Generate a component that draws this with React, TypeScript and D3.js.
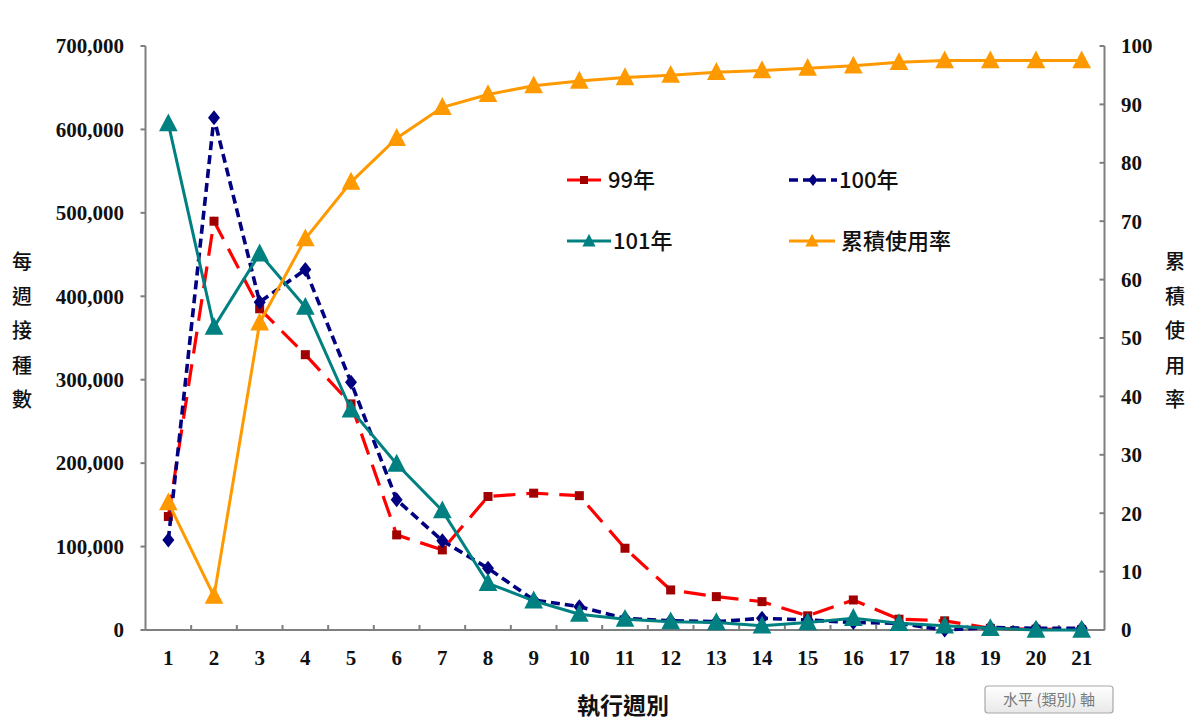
import React from "react";
import * as d3 from "d3";

const weeks = d3.range(1, 22).map(String);
const s99 = [136000, 490000, 385000, 330000, 271000, 114000, 96000, 160000, 164000, 161000, 98000, 48000, 40000, 34000, 17000, 36000, 13000, 11000, 2000, 1000, 500];
const s100 = [108000, 614000, 393000, 432000, 297000, 156000, 107000, 74000, 36000, 28000, 14000, 11000, 10000, 14000, 12000, 9000, 8000, 0, 3000, 2000, 2000];
const s101 = [607000, 363000, 451000, 387000, 264000, 199000, 143000, 56000, 35000, 19000, 13000, 10000, 9000, 5000, 9000, 14000, 8000, 5000, 2000, 0, 0];
const cumRate = [21.8, 5.8, 52.6, 67, 76.7, 84.2, 89.5, 91.7, 93.2, 94.0, 94.6, 95.0, 95.5, 95.8, 96.2, 96.6, 97.2, 97.5, 97.5, 97.5, 97.5];
const leftTicks = [0, 100000, 200000, 300000, 400000, 500000, 600000, 700000];
const rightTicks = [0, 10, 20, 30, 40, 50, 60, 70, 80, 90, 100];
const legendItems = ["99年", "100年", "101年", "累積使用率"];

const W = 1192, H = 725;
const L = 145.5, R = 1104.5, T = 46, B = 630;

export default function App() {
  const x = d3.scaleBand<string>().domain(weeks).range([L, R]).padding(0);
  const cx = (i: number) => (x(weeks[i]) as number) + x.bandwidth() / 2;
  const yL = d3.scaleLinear().domain([0, 700000]).range([B, T]);
  const yR = d3.scaleLinear().domain([0, 100]).range([B, T]);
  const lineL = d3.line<number>().x((_, i) => cx(i)).y((d) => yL(d));
  const lineR = d3.line<number>().x((_, i) => cx(i)).y((d) => yR(d));
  const fmt = d3.format(",");
  const numFont = "'Liberation Serif', 'Times New Roman', serif";
  const cjk = "'Noto Sans CJK TC', 'Noto Sans CJK SC', sans-serif";

  const tri = (px: number, py: number, s: number) =>
    `M${px},${py - s * 0.6}L${px + s * 0.55},${py + s * 0.45}L${px - s * 0.55},${py + s * 0.45}Z`;
  const dia = (px: number, py: number, s: number) =>
    `M${px},${py - s}L${px + s * 0.8},${py}L${px},${py + s}L${px - s * 0.8},${py}Z`;

  const axisColor = "#7f7f7f";
  const red = "#ff0000", redM = "#a00000", navy = "#000080", teal = "#008080", orange = "#ff9900";

  const leg = [
    { x: 567, y: 180, label: legendItems[0], tx: 608 },
    { x: 789, y: 180, label: legendItems[1], tx: 839 },
    { x: 567, y: 241, label: legendItems[2], tx: 613 },
    { x: 789, y: 241, label: legendItems[3], tx: 841 },
  ];

  return (
    <svg width={W} height={H} style={{ position: "absolute", left: 0, top: 0, background: "#fff" }}>
      <rect x={0} y={0} width={W} height={H} fill="#fff" />
      {/* axes */}
      <line x1={L} y1={T} x2={L} y2={B} stroke={axisColor} strokeWidth={2} />
      <line x1={R} y1={T} x2={R} y2={B} stroke={axisColor} strokeWidth={2} />
      <line x1={L} y1={B} x2={R} y2={B} stroke={axisColor} strokeWidth={2} />
      {leftTicks.map((t) => (
        <g key={"l" + t}>
          <line x1={L - 5} x2={L} y1={yL(t)} y2={yL(t)} stroke={axisColor} strokeWidth={2} />
          <text x={124} y={yL(t)} dy="0.35em" textAnchor="end" fontFamily={numFont} fontWeight="bold" fontSize={21} fill="#111">
            {fmt(t)}
          </text>
        </g>
      ))}
      {rightTicks.map((t) => (
        <g key={"r" + t}>
          <line x1={R - 5} x2={R} y1={yR(t)} y2={yR(t)} stroke={axisColor} strokeWidth={2} />
          <text x={1121} y={yR(t)} dy="0.35em" textAnchor="start" fontFamily={numFont} fontWeight="bold" fontSize={21} fill="#111">
            {t}
          </text>
        </g>
      ))}
      {weeks.map((w, i) => (
        <g key={"x" + w}>
          {i > 0 && (
            <line x1={x(w) as number} x2={x(w) as number} y1={B - 5} y2={B} stroke={axisColor} strokeWidth={2} />
          )}
          <text x={cx(i)} y={658} dy="0.35em" textAnchor="middle" fontFamily={numFont} fontWeight="bold" fontSize={21} fill="#111">
            {w}
          </text>
        </g>
      ))}

      {/* axis titles */}
      {"每週接種數".split("").map((c, i) => (
        <text key={"tl" + i} x={22} y={262 + i * 34.5} dy="0.35em" textAnchor="middle" fontFamily={cjk} fontWeight={500} fontSize={20} fill="#111">
          {c}
        </text>
      ))}
      {"累積使用率".split("").map((c, i) => (
        <text key={"tr" + i} x={1175} y={262 + i * 34.5} dy="0.35em" textAnchor="middle" fontFamily={cjk} fontWeight={500} fontSize={20} fill="#111">
          {c}
        </text>
      ))}
      <text x={623} y={706} dy="0.35em" textAnchor="middle" fontFamily={cjk} fontWeight="bold" fontSize={23} fill="#111">
        執行週別
      </text>

      {/* series 99 */}
      <path d={lineL(s99) || ""} fill="none" stroke={red} strokeWidth={3.2} strokeDasharray="22 11" />
      {s99.map((v, i) => (
        <rect key={"m99" + i} x={cx(i) - 4.5} y={yL(v) - 4.5} width={9} height={9} fill={redM} />
      ))}
      {/* series 100 */}
      <path d={lineL(s100) || ""} fill="none" stroke={navy} strokeWidth={3.6} strokeDasharray="9 5" />
      {s100.map((v, i) => (
        <path key={"m100" + i} d={dia(cx(i), yL(v), 7.5)} fill={navy} />
      ))}
      {/* series 101 */}
      <path d={lineL(s101) || ""} fill="none" stroke={teal} strokeWidth={3} />
      {s101.map((v, i) => (
        <path key={"m101" + i} d={tri(cx(i), yL(v), 17)} fill={teal} />
      ))}
      {/* cumulative */}
      <path d={lineR(cumRate) || ""} fill="none" stroke={orange} strokeWidth={3} />
      {cumRate.map((v, i) => (
        <path key={"mc" + i} d={tri(cx(i), yR(v), 17)} fill={orange} />
      ))}

      {/* legend */}
      <g>
        <line x1={leg[0].x} x2={leg[0].x + 34} y1={leg[0].y} y2={leg[0].y} stroke={red} strokeWidth={3.2} />
        <rect x={leg[0].x + 13} y={leg[0].y - 4} width={8} height={8} fill={redM} />
        <line x1={leg[1].x} x2={leg[1].x + 48} y1={leg[1].y} y2={leg[1].y} stroke={navy} strokeWidth={3.6} strokeDasharray="9 5" />
        <path d={dia(leg[1].x + 24, leg[1].y, 6)} fill={navy} />
        <line x1={leg[2].x} x2={leg[2].x + 44} y1={leg[2].y} y2={leg[2].y} stroke={teal} strokeWidth={3} />
        <path d={tri(leg[2].x + 22, leg[2].y, 12)} fill={teal} />
        <line x1={leg[3].x} x2={leg[3].x + 46} y1={leg[3].y} y2={leg[3].y} stroke={orange} strokeWidth={3} />
        <path d={tri(leg[3].x + 23, leg[3].y, 12)} fill={orange} />
        {leg.map((l, i) => (
          <text key={"lt" + i} x={l.tx} y={l.y} dy="0.35em" fontFamily={cjk} fontWeight={500} fontSize={22} fill="#111">
            {l.label}
          </text>
        ))}
      </g>

      {/* tooltip box */}
      <defs>
        <linearGradient id="tipg" x1="0" y1="0" x2="0" y2="1">
          <stop offset="0" stopColor="#ffffff" />
          <stop offset="1" stopColor="#e8e8e8" />
        </linearGradient>
      </defs>
      <rect x={985} y={686} width={128} height={27} rx={3} fill="url(#tipg)" stroke="#a8a8a8" strokeWidth={1.2} />
      <text x={1049} y={700} dy="0.35em" textAnchor="middle" fontFamily={cjk} fontSize={15} fill="#7a7a7a">
        水平 (類別) 軸
      </text>
    </svg>
  );
}
